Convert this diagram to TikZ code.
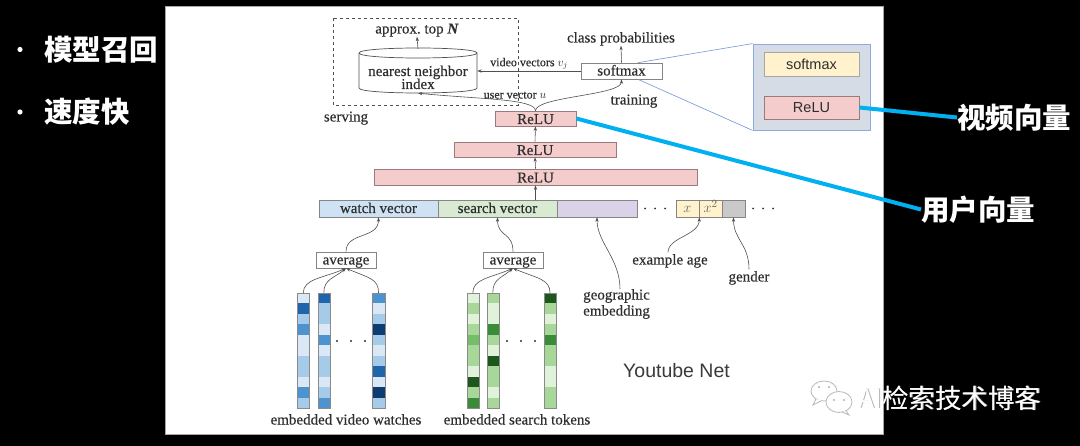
\documentclass[tikz,border=0pt]{standalone}
\usepackage{fontspec}
\setmainfont{Liberation Serif}[FakeBold=0.35]
\usetikzlibrary{arrows.meta,calc}
\newfontfamily\cjk{Noto Sans CJK SC}
\newfontfamily\sansf{Liberation Sans}
\definecolor{txt}{HTML}{2E2E2E}
\definecolor{linec}{HTML}{505050}
\definecolor{boxline}{HTML}{858585}
\definecolor{relu}{HTML}{F4CCCC}
\definecolor{reluline}{HTML}{9A7A7A}
\definecolor{watchc}{HTML}{CFE2F3}
\definecolor{searchc}{HTML}{D9EAD3}
\definecolor{geoc}{HTML}{D9D2E9}
\definecolor{agec}{HTML}{FFF2CC}
\definecolor{genc}{HTML}{C9C9C9}
\definecolor{rpfill}{HTML}{D6DCE5}
\definecolor{rpline}{HTML}{8FAADC}
\definecolor{rpbox}{HTML}{A6A6A6}
\definecolor{cyanl}{HTML}{00B0F0}
\definecolor{thinblue}{HTML}{6F96D8}
\definecolor{colline}{HTML}{8A8A8A}
\definecolor{ytc}{HTML}{3A3A3A}
\definecolor{bl1}{HTML}{DAE8F5}
\definecolor{bl2}{HTML}{A6CBE8}
\definecolor{bl3}{HTML}{4D93D0}
\definecolor{bl4}{HTML}{1F65AB}
\definecolor{bl5}{HTML}{0C3C70}
\definecolor{gr1}{HTML}{E1F2DB}
\definecolor{gr2}{HTML}{A8D79A}
\definecolor{gr3}{HTML}{75BD6A}
\definecolor{gr4}{HTML}{3B8C38}
\definecolor{gr5}{HTML}{1E571E}
\newcommand\embcol[5]{%
  \foreach \cv [count=\i from 0] in {#5} {\fill[#4\cv] (#2,293+10.4545*\i) rectangle ++(#3,10.4545);}
  \node[draw=colline, line width=0.6pt, inner sep=0pt, minimum width=#3pt, minimum height=115pt, anchor=north west] (#1) at (#2,293) {};
}
\begin{document}
\begin{tikzpicture}[x=1pt,y=-1pt,
  tl/.style={text height=12pt, text depth=3pt},
  mlbl/.style={font=\fontsize{15}{15}\selectfont, text=txt, inner sep=0pt},
  lbl/.style={mlbl, tl},
  smlbl/.style={font=\fontsize{12}{13}\selectfont, text=txt, inner sep=0pt, text height=9.5pt, text depth=2.5pt},
  diagbox/.style={draw=boxline, line width=0.6pt, inner sep=0pt, font=\fontsize{15}{16}\selectfont, text=txt, tl},
  relubox/.style={diagbox, fill=relu, draw=reluline, text height=13pt, text depth=2pt},
  conn/.style={draw=linec, line width=0.6pt, -{Stealth[length=4.5pt,width=3.2pt]}},
  plain/.style={draw=linec, line width=0.6pt},
  cjkbig/.style={font=\cjk\bfseries\fontsize{28.5}{30}\selectfont, text=white, inner sep=0pt, anchor=west},
  rptext/.style={font=\sansf\fontsize{14.5}{16}\selectfont, text=txt, inner sep=0pt, text height=13pt, text depth=2pt},
  ]
\fill[black] (0,0) rectangle (1080,446);
\useasboundingbox (0,0) rectangle (1080,446);
\draw[fill=white, draw=gray!70] (165,6) rectangle (883,434);

% serving box
\draw[dashed, draw=linec, line width=0.6pt] (333,18) rectangle (518,105);

% cylinder
\draw[plain, fill=white, line width=0.7pt] (359,53) -- (359,88) .. controls (359,94.67) and (477,94.67) .. (477,88) -- (477,53);
\draw[plain, fill=white, line width=0.7pt] (359,53) .. controls (359,46.33) and (477,46.33) .. (477,53) .. controls (477,59.67) and (359,59.67) .. (359,53);
\node[inner sep=0pt, minimum width=118pt, minimum height=44pt] (nn) at (418,71) {};
\node[lbl] (nntext) at (418,71.5) {nearest neighbor};
\node[lbl] (nntext2) at (418,84.5) {index};

\node[lbl] (apx) at (417,29) {approx.\ top \textbf{\textit{N}}};
\draw[conn] (nn.north) -- (apx.south);

% softmax
\node[diagbox, fill=white, minimum width=81pt, minimum height=16pt] (sm) at (621.5,71) {softmax};
\node[lbl] (cp) at (621,38) {class probabilities};
\draw[conn] (sm.north) -- (cp.south);
\draw[conn] (sm.west) -- (nn.east) node[smlbl, midway, above=2pt] (vvlab) {video vectors $v_j$};
\node[lbl] (tr) at (634,100) {training};
\node[lbl] (svg) at (346,117) {serving};

% ReLU stack
\node[relubox, minimum width=81pt, minimum height=15pt] (r1) at (535.5,118.5) {ReLU};
\node[relubox, minimum width=162pt, minimum height=15pt] (r2) at (535,149.5) {ReLU};
\node[relubox, minimum width=323pt, minimum height=16pt] (r3) at (535.5,177) {ReLU};
\draw[conn] (r2.north) -- (r1.south);
\draw[conn] (r3.north) -- (r2.south);

\draw[conn] (r1.north) .. controls +(0,-12) and +(60,6) .. (nn.south);
\node[smlbl] (uvlab) at (515,95) {user vector $u$};
\draw[conn] (r1.north) .. controls +(0,-14) and +(0,16) .. (sm.south);

% input bar
\node[diagbox, fill=watchc, minimum width=119pt, minimum height=17pt] (wv) at (378.5,208.5) {watch vector};
\node[diagbox, fill=searchc, minimum width=119pt, minimum height=17pt] (sv) at (497.5,208.5) {search vector};
\node[diagbox, fill=geoc, minimum width=80pt, minimum height=17pt] (geo) at (597,208.5) {};
\node[diagbox, fill=agec, minimum width=23pt, minimum height=17pt, text=gray!80!black] (xa) at (687.5,208.5) {$x$};
\node[diagbox, fill=agec, minimum width=23pt, minimum height=17pt, text=gray!80!black] (xb) at (710.5,208.5) {$x^2$};
\node[diagbox, fill=genc, minimum width=23pt, minimum height=17pt] (gd) at (733.5,208.5) {};
\foreach \x in {645,655,665} \fill[txt] (\x,208.5) circle (1pt);
\foreach \x in {753,763,773} \fill[txt] (\x,208.5) circle (1pt);
\draw[conn] (r3.south |- sv.north) -- (r3.south);

% averages
\node[diagbox, fill=white, minimum width=60pt, minimum height=16pt] (a1) at (346,260) {average};
\node[diagbox, fill=white, minimum width=60pt, minimum height=16pt] (a2) at (513,260) {average};
\draw[conn] (a1.north) .. controls +(0,-20) and +(0,22) .. (wv.south);
\draw[conn] (a2.north) .. controls +(0,-20) and +(0,20) .. (sv.south);

% side labels
\node[lbl] (ea) at (670,260) {example age};
\node[lbl] (gl) at (749,277) {gender};
\node[mlbl, align=left, anchor=west, font=\fontsize{15}{16}\selectfont] (ge) at (583,304) {geographic\\embedding};
\draw[conn] ($(ge.north west)+(37,0)$) .. controls +(0,-30) and +(0,25) .. (geo.south);
\draw[conn] ($(ea.north)+(-2,0)$) .. controls +(0,-15) and +(0,18) .. (xa.south east);
\draw[conn] (gl.north) .. controls +(0,-25) and +(0,22) .. (gd.south);

% embedding columns
\embcol{cb1}{297}{12}{bl}{1,4,2,3,1,1,2,2,1,3,2}
\embcol{cb2}{317.5}{12}{bl}{4,2,2,1,3,1,2,2,1,2,3}
\embcol{cb3}{372}{12.5}{bl}{3,1,2,5,2,1,2,4,1,5,2}
\embcol{cg1}{466.5}{12}{gr}{1,2,1,2,3,2,2,1,5,2,4}
\embcol{cg2}{486.5}{12}{gr}{2,1,1,4,2,1,5,2,2,1,2}
\embcol{cg3}{543.5}{12.5}{gr}{5,2,1,2,4,2,2,1,1,2,2}
\foreach \x in {337,351,365} \fill[txt] (\x,341) circle (1.2pt);
\foreach \x in {507,521,535} \fill[txt] (\x,341) circle (1.2pt);
\draw[conn] (cb1.north) .. controls +(0,-14) and +(-24,10) .. (a1.south);
\draw[conn] (cb2.north) .. controls +(0,-14) and +(-12,10) .. (a1.south);
\draw[conn] (cb3.north) .. controls +(0,-14) and +(24,10) .. (a1.south);
\draw[conn] (cg1.north) .. controls +(0,-14) and +(-24,10) .. (a2.south);
\draw[conn] (cg2.north) .. controls +(0,-14) and +(-12,10) .. (a2.south);
\draw[conn] (cg3.north) .. controls +(0,-14) and +(24,10) .. (a2.south);
\node[lbl] (evw) at (346,420) {embedded video watches};
\node[lbl] (est) at (517,420) {embedded search tokens};

% right detail panel
\node[draw=rpline, fill=rpfill, line width=0.8pt, minimum width=117pt, minimum height=86pt, inner sep=0pt] (rp) at (811.5,87) {};
\node[rptext, draw=rpbox, fill=agec, line width=0.8pt, minimum width=95pt, minimum height=24pt] (rps) at (811.5,64) {softmax};
\node[rptext, draw=reluline, fill=relu, line width=0.8pt, minimum width=95pt, minimum height=23pt] (rpr) at (811.5,107.5) {ReLU};
\draw[thinblue, line width=0.6pt] ($(sm.north west)!0.7!(sm.north east)$) -- (rp.north west);
\draw[thinblue, line width=0.6pt] ($(sm.south west)!0.7!(sm.south east)$) -- (rp.south west);

% Chinese callouts
\node[cjkbig] (vvt) at (957,117.5) {视频向量};
\node[cjkbig] (uvt) at (921,209.5) {用户向量};
\draw[cyanl, line width=4pt] (rpr.east) -- (vvt.west);
\draw[cyanl, line width=4pt] (r1.east) -- (uvt.west);

% left bullets
\fill[white] (20,49.5) circle (2.6pt);
\fill[white] (20,112) circle (2.6pt);
\node[cjkbig] (t1) at (44,50) {模型召回};
\node[cjkbig] (t2) at (44,112) {速度快};

% Youtube Net
\node[font=\sansf\fontsize{19.5}{22}\selectfont, text=ytc, inner sep=0pt, anchor=west] (yt) at (623,371) {Youtube Net};

% watermark icon
\draw[gray!55, line width=0.8pt, fill=white] (824,391) ellipse [x radius=13pt, y radius=10pt];
\draw[gray!55, line width=0.8pt, fill=white] (816,399) -- (813,405) -- (822,400.5);
\draw[gray!55, line width=0.8pt, fill=white] (839,402) ellipse [x radius=13pt, y radius=10.5pt];
\draw[gray!55, line width=0.8pt, fill=white] (846,411) -- (849,415) -- (842,412);
\foreach \p in {(819,387),(829,387),(834,400),(844,400)} \fill[gray!60] \p circle (1.1pt);

% watermark text
\node[font=\cjk\fontsize{26.5}{28}\selectfont, text=gray!60, inner sep=0pt, anchor=west] (wms) at (858.8,398.8) {AI检索技术博客};
\node[font=\cjk\fontsize{26.5}{28}\selectfont, text=white, inner sep=0pt, anchor=west] (wm) at (858,398) {AI检索技术博客};
\end{tikzpicture}
\end{document}
